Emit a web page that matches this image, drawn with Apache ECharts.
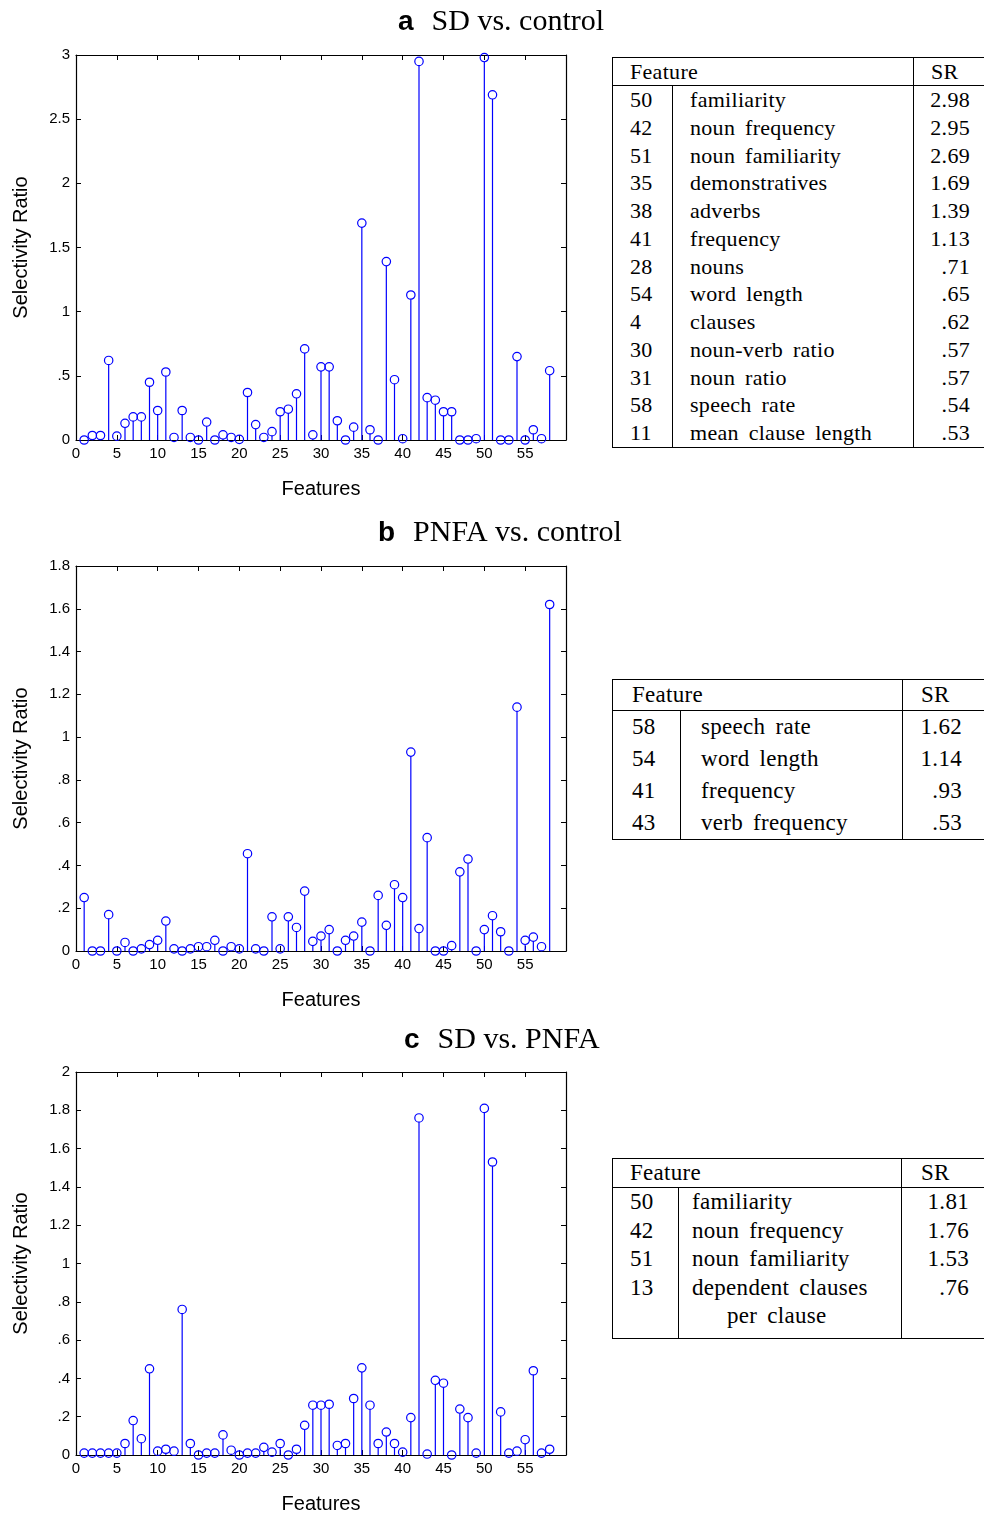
<!DOCTYPE html>
<html>
<head>
<meta charset="utf-8">
<title>Selectivity ratio</title>
<script src="https://cdn.jsdelivr.net/npm/echarts@6/dist/echarts.min.js"></script>
<style>
  html, body { margin: 0; padding: 0; background: #fff; overflow: hidden; }
  #wrap { position: relative; width: 984px; height: 1515px; overflow: hidden; }
  #chart { position: absolute; left: 0; top: 0; width: 984px; height: 1515px; }
  table.sr {
    position: absolute; border-collapse: collapse; table-layout: fixed;
    font-family: "Liberation Serif", "DejaVu Serif", serif; color: #000;
    border: 1.5px solid #000; background: #fff;
    word-spacing: 4px; letter-spacing: 0.3px;
  }
  table.sr td { padding: 0; white-space: nowrap; vertical-align: top; }
  table.sr tr.head td { border-bottom: 1.5px solid #000; vertical-align: middle; }
  table.sr td.val { text-align: right; border-left: 1.5px solid #000; }
  table.sr td.name { border-left: 1.5px solid #000; }
</style>
</head>
<body>
<div id="wrap">
  <div id="chart"></div>
</div>
<script>
// feature index 1..58
var features = [1, 2, 3, 4, 5, 6, 7, 8, 9, 10, 11, 12, 13, 14, 15, 16, 17, 18, 19, 20,
  21, 22, 23, 24, 25, 26, 27, 28, 29, 30, 31, 32, 33, 34, 35, 36, 37, 38, 39, 40,
  41, 42, 43, 44, 45, 46, 47, 48, 49, 50, 51, 52, 53, 54, 55, 56, 57, 58];

// a: SD vs. control
var srA = [0, 0.035, 0.035, 0.62, 0.03, 0.13, 0.18, 0.18, 0.45, 0.23,
  0.53, 0.02, 0.23, 0.02, 0, 0.14, 0, 0.04, 0.02, 0.005,
  0.37, 0.12, 0.02, 0.065, 0.22, 0.24, 0.36, 0.71, 0.04, 0.57,
  0.57, 0.15, 0, 0.10, 1.69, 0.08, 0, 1.39, 0.47, 0.01,
  1.13, 2.95, 0.33, 0.31, 0.22, 0.22, 0, 0, 0.01, 2.98,
  2.69, 0, 0, 0.65, 0, 0.08, 0.01, 0.54];

// b: PNFA vs. control
var srB = [0.25, 0, 0, 0.17, 0, 0.04, 0, 0.01, 0.03, 0.05,
  0.14, 0.01, 0, 0.01, 0.02, 0.02, 0.05, 0, 0.02, 0.01,
  0.455, 0.01, 0, 0.16, 0.01, 0.16, 0.11, 0.28, 0.045, 0.07,
  0.10, 0, 0.05, 0.07, 0.135, 0, 0.26, 0.12, 0.31, 0.25,
  0.93, 0.105, 0.53, 0, 0, 0.025, 0.37, 0.43, 0, 0.10,
  0.165, 0.09, 0, 1.14, 0.05, 0.065, 0.02, 1.62];

// c: SD vs. PNFA
var srC = [0.01, 0.01, 0.01, 0.01, 0.01, 0.06, 0.18, 0.085, 0.45, 0.02,
  0.03, 0.02, 0.76, 0.06, 0, 0.01, 0.01, 0.105, 0.025, 0,
  0.01, 0.01, 0.04, 0.015, 0.06, 0, 0.03, 0.155, 0.26, 0.26,
  0.265, 0.05, 0.06, 0.295, 0.455, 0.26, 0.06, 0.12, 0.06, 0.015,
  0.195, 1.76, 0.005, 0.39, 0.375, 0, 0.24, 0.195, 0.01, 1.81,
  1.53, 0.225, 0.01, 0.02, 0.08, 0.44, 0.01, 0.03];

var panelLetters = ['a', 'b', 'c'];
var panelTitles = ['SD vs. control', 'PNFA vs. control', 'SD vs. PNFA'];
var yMax = [3, 1.8, 2];
var yStep = [0.5, 0.2, 0.2];

// tables: [feature no, name, SR label]
var tableA = [
  ['50', 'familiarity', '2.98'],
  ['42', 'noun frequency', '2.95'],
  ['51', 'noun familiarity', '2.69'],
  ['35', 'demonstratives', '1.69'],
  ['38', 'adverbs', '1.39'],
  ['41', 'frequency', '1.13'],
  ['28', 'nouns', '.71'],
  ['54', 'word length', '.65'],
  ['4', 'clauses', '.62'],
  ['30', 'noun-verb ratio', '.57'],
  ['31', 'noun ratio', '.57'],
  ['58', 'speech rate', '.54'],
  ['11', 'mean clause length', '.53']
];
var tableB = [
  ['58', 'speech rate', '1.62'],
  ['54', 'word length', '1.14'],
  ['41', 'frequency', '.93'],
  ['43', 'verb frequency', '.53']
];
var tableC = [
  ['50', 'familiarity', '1.81'],
  ['42', 'noun frequency', '1.76'],
  ['51', 'noun familiarity', '1.53'],
  ['13', 'dependent clauses<br><span style="padding-left:35px">per clause</span>', '.76']
];

var sans = '"Liberation Sans", Arial, sans-serif';
var serif = '"Liberation Serif", "Times New Roman", serif';
var blue = '#0000ff';

var gridTops = [55, 566, 1072];
var titleSpots = [[398, 7], [378, 518], [404, 1025]];

function yFmt(v) {
  v = Math.round(v * 10) / 10;
  if (v === 0) return '0';
  if (v < 1) return String(v).replace(/^0/, '');
  return String(v);
}

function stem(params, api) {
  var x = api.value(0), y = api.value(1);
  var p0 = api.coord([x, 0]);
  var p1 = api.coord([x, y]);
  var r = 4.2;
  var children = [];
  if (p0[1] - p1[1] > r) {
    children.push({
      type: 'line',
      shape: { x1: p0[0], y1: p0[1], x2: p1[0], y2: p1[1] + r },
      style: { stroke: blue, lineWidth: 1.2 }
    });
  }
  children.push({
    type: 'circle',
    shape: { cx: p1[0], cy: p1[1], r: r },
    style: { fill: 'rgba(0,0,0,0)', stroke: blue, lineWidth: 1.2 }
  });
  return { type: 'group', children: children };
}

var grids = [], xAxes = [], yAxes = [], series = [], titles = [];
var allData = [srA, srB, srC];

for (var i = 0; i < 3; i++) {
  grids.push({ left: 76, top: gridTops[i], width: 490, height: 385 });

  titles.push({
    text: '{l|' + panelLetters[i] + '}{t|' + panelTitles[i] + '}',
    left: titleSpots[i][0], top: titleSpots[i][1], padding: 0,
    textStyle: {
      fontWeight: 'normal',
      rich: {
        l: { fontFamily: sans, fontWeight: 'bold', fontSize: 28, color: '#000', padding: [0, 18, 0, 0] },
        t: { fontFamily: serif, fontWeight: 'normal', fontSize: 30, color: '#000' }
      }
    }
  });

  var tickStyle = { show: true, inside: true, length: 5, lineStyle: { color: '#000', width: 1 } };
  var lineStyle = { show: true, onZero: false, lineStyle: { color: '#000', width: 1.2 } };

  xAxes.push({
    gridIndex: i, type: 'value', position: 'bottom', min: 0, max: 60, interval: 5,
    axisLine: lineStyle, axisTick: tickStyle, splitLine: { show: false },
    axisLabel: {
      color: '#000', fontFamily: sans, fontSize: 15, margin: 6,
      formatter: function (v) { return v === 60 ? '' : String(v); }
    },
    name: 'Features', nameLocation: 'middle', nameGap: 39,
    nameTextStyle: { color: '#000', fontFamily: sans, fontSize: 20 }
  });
  xAxes.push({
    gridIndex: i, type: 'value', position: 'top', min: 0, max: 60, interval: 5,
    axisLine: lineStyle, axisTick: tickStyle, splitLine: { show: false },
    axisLabel: { show: false }
  });
  yAxes.push({
    gridIndex: i, type: 'value', position: 'left', min: 0, max: yMax[i], interval: yStep[i],
    axisLine: lineStyle, axisTick: tickStyle, splitLine: { show: false },
    axisLabel: { color: '#000', fontFamily: sans, fontSize: 15, margin: 6, formatter: yFmt },
    name: 'Selectivity Ratio', nameLocation: 'middle', nameGap: 45,
    nameTextStyle: { color: '#000', fontFamily: sans, fontSize: 20 }
  });
  yAxes.push({
    gridIndex: i, type: 'value', position: 'right', min: 0, max: yMax[i], interval: yStep[i],
    axisLine: lineStyle, axisTick: tickStyle, splitLine: { show: false },
    axisLabel: { show: false }
  });

  var pts = [];
  for (var k = 0; k < features.length; k++) pts.push([features[k], allData[i][k]]);
  series.push({
    type: 'custom', xAxisIndex: i * 2, yAxisIndex: i * 2,
    renderItem: stem, data: pts, clip: false, silent: true
  });
}

var chartDom = document.getElementById('chart');
var myChart = echarts.init(chartDom, null, { renderer: 'canvas' });
var option = {
  animation: false,
  backgroundColor: '#fff',
  title: titles,
  grid: grids,
  xAxis: xAxes,
  yAxis: yAxes,
  series: series
};
myChart.setOption(option);

// side tables
function buildTable(rows, cfg) {
  var w = cfg.c1 + cfg.c2 + cfg.c3;
  var html = '<table class="sr" style="left:' + cfg.left + 'px;top:' + cfg.top + 'px;width:' + w + 'px;font-size:' + cfg.font + 'px">';
  html += '<colgroup><col style="width:' + cfg.c1 + 'px"><col style="width:' + cfg.c2 + 'px"><col style="width:' + cfg.c3 + 'px"></colgroup>';
  html += '<tr class="head" style="height:' + cfg.head + 'px"><td colspan="2" style="padding-left:' + cfg.numPad + 'px">Feature</td>' +
    '<td style="border-left:1.5px solid #000;padding-left:' + cfg.srPad + 'px">SR</td></tr>';
  for (var r = 0; r < rows.length; r++) {
    var h = (cfg.rowH instanceof Array) ? cfg.rowH[r] : cfg.rowH;
    html += '<tr style="height:' + h + 'px;line-height:' + cfg.lineH + 'px">' +
      '<td style="padding-left:' + cfg.numPad + 'px">' + rows[r][0] + '</td>' +
      '<td class="name" style="padding-left:' + cfg.namePad + 'px">' + rows[r][1] + '</td>' +
      '<td class="val" style="padding-right:' + cfg.valPad + 'px">' + rows[r][2] + '</td></tr>';
  }
  html += '</table>';
  document.getElementById('wrap').insertAdjacentHTML('beforeend', html);
}

buildTable(tableA, { left: 612, top: 57, font: 22, c1: 60, c2: 241, c3: 90, head: 28,
  rowH: 27.75, lineH: 27.75, numPad: 17, namePad: 17, srPad: 17, valPad: 33 });
buildTable(tableB, { left: 612, top: 679, font: 23, c1: 68, c2: 222, c3: 100, head: 31,
  rowH: 32, lineH: 32, numPad: 19, namePad: 20, srPad: 18, valPad: 40 });
buildTable(tableC, { left: 612, top: 1158, font: 23, c1: 66, c2: 223, c3: 100, head: 29,
  rowH: [28.5, 28.5, 28.5, 64.5], lineH: 28.5, numPad: 17, namePad: 13, srPad: 19, valPad: 32 });
</script>
</body>
</html>
